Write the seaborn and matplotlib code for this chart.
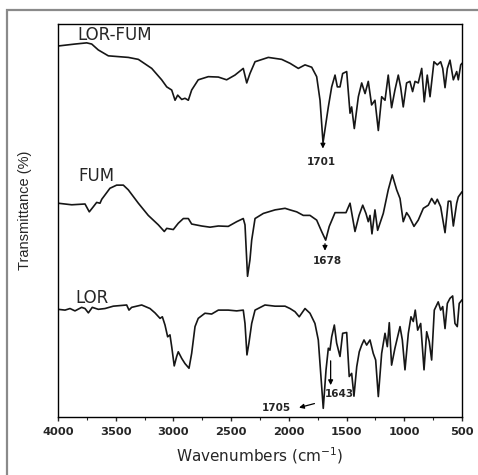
"""FTIR spectra of LOR, FUM and the LOR-FUM cocrystal."""

import numpy as np
import pandas as pd
import matplotlib
matplotlib.use("Agg")
import matplotlib.pyplot as plt
from matplotlib.patches import Rectangle
from matplotlib.ticker import MultipleLocator
import seaborn as sns

# LOR-FUM trace (wavenumber cm-1, transmittance offset units)
lorfum_wn = [4000, 3853, 3751, 3708, 3651, 3564, 3391, 3304, 3188, 3102,
             3058, 3015, 2986, 2963, 2928, 2900, 2871, 2842, 2785, 2698,
             2611, 2539, 2467, 2395, 2365, 2337, 2293, 2178, 2062, 1990,
             1918, 1860, 1802, 1759, 1730, 1704, 1658, 1629, 1600, 1580,
             1557, 1534, 1499, 1470, 1456, 1433, 1398, 1369, 1340, 1312,
             1283, 1254, 1225, 1196, 1167, 1139, 1110, 1081, 1052, 1032,
             1009, 980, 951, 928, 907, 879, 849, 827, 801, 777,
             743, 714, 685, 667, 647, 627, 604, 575, 546, 532,
             511, 500]
lorfum_t = [94.4, 94.9, 95.2, 94.9, 93.4, 91.9, 91.5, 91.0, 88.7, 85.8,
            84.0, 83.2, 80.6, 81.9, 80.8, 81.1, 80.6, 83.2, 85.8, 86.6,
            86.5, 85.8, 87.0, 88.7, 85.0, 87.4, 90.4, 91.5, 91.0, 90.0,
            88.7, 89.6, 89.0, 86.6, 80.6, 69.8, 78.9, 84.0, 87.0, 84.0,
            84.0, 87.4, 87.9, 77.3, 78.9, 73.4, 81.5, 85.0, 82.3, 85.4,
            79.4, 80.6, 72.9, 81.5, 80.6, 87.0, 78.7, 83.2, 87.0, 84.0,
            78.9, 85.0, 85.4, 82.8, 85.4, 85.0, 88.7, 80.2, 87.0, 81.5,
            90.4, 89.6, 90.4, 88.7, 83.8, 88.7, 90.8, 85.8, 87.9, 85.8,
            89.6, 90.0]

# FUM trace
fum_wn = [4000, 3881, 3766, 3729, 3694, 3665, 3636, 3621, 3593, 3550,
          3492, 3434, 3391, 3304, 3218, 3131, 3079, 3058, 3001, 2958,
          2914, 2871, 2842, 2755, 2683, 2611, 2525, 2452, 2395, 2380,
          2358, 2337, 2322, 2293, 2221, 2120, 2033, 1990, 1932, 1875,
          1817, 1759, 1716, 1681, 1650, 1600, 1542, 1505, 1470, 1427,
          1392, 1360, 1332, 1312, 1297, 1280, 1254, 1231, 1182, 1139,
          1104, 1066, 1037, 1009, 980, 957, 916, 879, 835, 792,
          763, 734, 714, 685, 647, 619, 598, 575, 546, 532,
          500]
fum_t = [54.4, 54.0, 54.2, 52.2, 53.5, 54.6, 54.4, 55.4, 56.5, 58.2,
         59.0, 59.0, 57.8, 54.4, 51.3, 48.9, 47.2, 48.0, 47.7, 49.3,
         50.5, 50.5, 49.1, 48.6, 48.3, 48.6, 48.5, 49.7, 50.5, 48.9,
         35.8, 40.0, 45.0, 50.5, 51.8, 52.7, 53.1, 52.7, 52.2, 51.3,
         51.3, 50.1, 47.2, 45.0, 48.5, 52.0, 52.0, 52.0, 54.4, 47.2,
         51.3, 53.9, 51.8, 49.7, 51.3, 46.6, 52.7, 47.5, 51.8, 57.8,
         61.6, 57.8, 55.6, 49.7, 52.0, 51.0, 48.5, 50.1, 53.1, 53.9,
         55.6, 54.2, 55.4, 53.5, 46.9, 54.9, 54.9, 48.6, 54.4, 56.0,
         57.3]

# LOR trace
lor_wn = [4000, 3939, 3896, 3853, 3795, 3766, 3737, 3703, 3651, 3593,
          3521, 3405, 3385, 3362, 3275, 3203, 3160, 3116, 3096, 3073,
          3050, 3030, 3015, 2993, 2972, 2958, 2928, 2900, 2865, 2842,
          2813, 2785, 2727, 2669, 2611, 2525, 2452, 2395, 2380, 2363,
          2346, 2322, 2293, 2207, 2120, 2033, 1990, 1947, 1910, 1860,
          1817, 1774, 1745, 1724, 1702, 1678, 1658, 1644, 1629, 1606,
          1586, 1557, 1534, 1499, 1477, 1456, 1436, 1412, 1390, 1369,
          1349, 1326, 1297, 1269, 1248, 1225, 1196, 1167, 1147, 1130,
          1110, 1081, 1061, 1037, 1017, 994, 965, 942, 922, 905,
          884, 858, 829, 806, 784, 763, 740, 706, 685, 667,
          647, 627, 604, 581, 561, 541, 524, 500]
lor_t = [27.4, 27.2, 27.6, 27.0, 27.9, 27.6, 26.5, 27.9, 27.4, 27.6,
         28.2, 28.5, 27.2, 27.9, 28.5, 27.6, 26.5, 25.1, 25.5, 23.4,
         20.4, 20.9, 17.9, 13.0, 15.4, 16.6, 14.9, 13.6, 12.4, 16.2,
         23.0, 25.1, 26.4, 26.2, 27.2, 27.2, 27.0, 27.2, 23.8, 15.8,
         18.8, 23.8, 27.2, 28.5, 28.2, 28.2, 27.6, 26.8, 25.5, 27.6,
         26.4, 23.8, 19.6, 11.1, 2.2, 12.0, 17.5, 17.0, 20.4, 23.4,
         18.8, 15.4, 21.3, 21.5, 10.3, 11.1, 5.3, 12.8, 16.6, 18.3,
         19.6, 18.3, 19.6, 16.2, 14.5, 5.2, 16.2, 21.3, 17.9, 24.0,
         13.2, 17.5, 20.0, 23.0, 19.6, 12.0, 21.3, 25.5, 24.3, 27.2,
         22.1, 23.8, 12.0, 21.7, 19.2, 14.5, 27.2, 29.3, 27.2, 28.1,
         22.5, 28.9, 30.2, 30.8, 23.8, 23.0, 28.9, 29.8]

sample_names = ["LOR-FUM", "FUM", "LOR"]
sample_label_pos = [(3835, 97.3), (3827, 61.2), (3853, 30.3)]

xticks = [4000, 3500, 3000, 2500, 2000, 1500, 1000, 500]

df = pd.concat([
    pd.DataFrame({"wn": lorfum_wn, "T": lorfum_t, "sample": "LOR-FUM"}),
    pd.DataFrame({"wn": fum_wn, "T": fum_t, "sample": "FUM"}),
    pd.DataFrame({"wn": lor_wn, "T": lor_t, "sample": "LOR"}),
])

sns.set_style("ticks")
plt.rcParams['font.family'] = ['DejaVu Sans']

fig = plt.figure(figsize=(4.78, 4.75), dpi=100)
ax = fig.add_axes([58 / 478, 58 / 475, 404 / 478, 393 / 475])

sns.lineplot(data=df, x="wn", y="T", units="sample", estimator=None,
             sort=False, color="#161616", linewidth=1.2, ax=ax, legend=False)

ax.set_xlim(4000, 500)
ax.set_ylim(0, 100)
ax.set_xticks(xticks)
ax.xaxis.set_minor_locator(MultipleLocator(250))
ax.set_yticks([])
ax.tick_params(axis="x", which="major", direction="out", length=3, width=1,
               labelsize=8.2, pad=4)
ax.tick_params(axis="x", which="minor", direction="out", length=2, width=0.8)
for lbl in ax.get_xticklabels():
    lbl.set_fontweight("bold")
for sp in ax.spines.values():
    sp.set_visible(True)
    sp.set_linewidth(1.0)
    sp.set_color("black")

ax.set_xlabel("Wavenumbers (cm$^{-1}$)", fontsize=11, labelpad=6)
ax.set_ylabel("Transmittance (%)", fontsize=10.5,
              family=['Liberation Sans'])
ax.yaxis.set_label_coords(-26 / 404, 0.527)

for name, (x, y) in zip(sample_names, sample_label_pos):
    ax.text(x, y, name, fontsize=12, ha="left", va="center")

# peak annotations
arrow = dict(arrowstyle="-|>", color="black", lw=0.9, mutation_scale=7)
ann = dict(fontsize=7.5, fontweight="bold", ha="center", va="center")
ax.annotate("", xy=(1705, 67.6), xytext=(1705, 69.8), arrowprops=arrow)
ax.text(1722, 65.0, "1701", **ann)
ax.annotate("", xy=(1687, 41.6), xytext=(1687, 44.8), arrowprops=arrow)
ax.text(1670, 39.7, "1678", **ann)
ax.annotate("", xy=(1638, 7.4), xytext=(1638, 15.0), arrowprops=arrow)
ax.text(1560, 5.9, "1643", **ann)
ax.annotate("", xy=(1935, 2.2), xytext=(1755, 3.6), arrowprops=arrow)
ax.text(2111, 2.3, "1705", **ann)

# grey frame of the original figure panel
fig.patches.append(Rectangle((7 / 478, -0.2), 1.3, 1.2 - 10 / 475,
                             transform=fig.transFigure, fill=False,
                             edgecolor="#8a8a8a", linewidth=1.6))

fig.savefig("out.png", dpi=100)
plt.close(fig)
